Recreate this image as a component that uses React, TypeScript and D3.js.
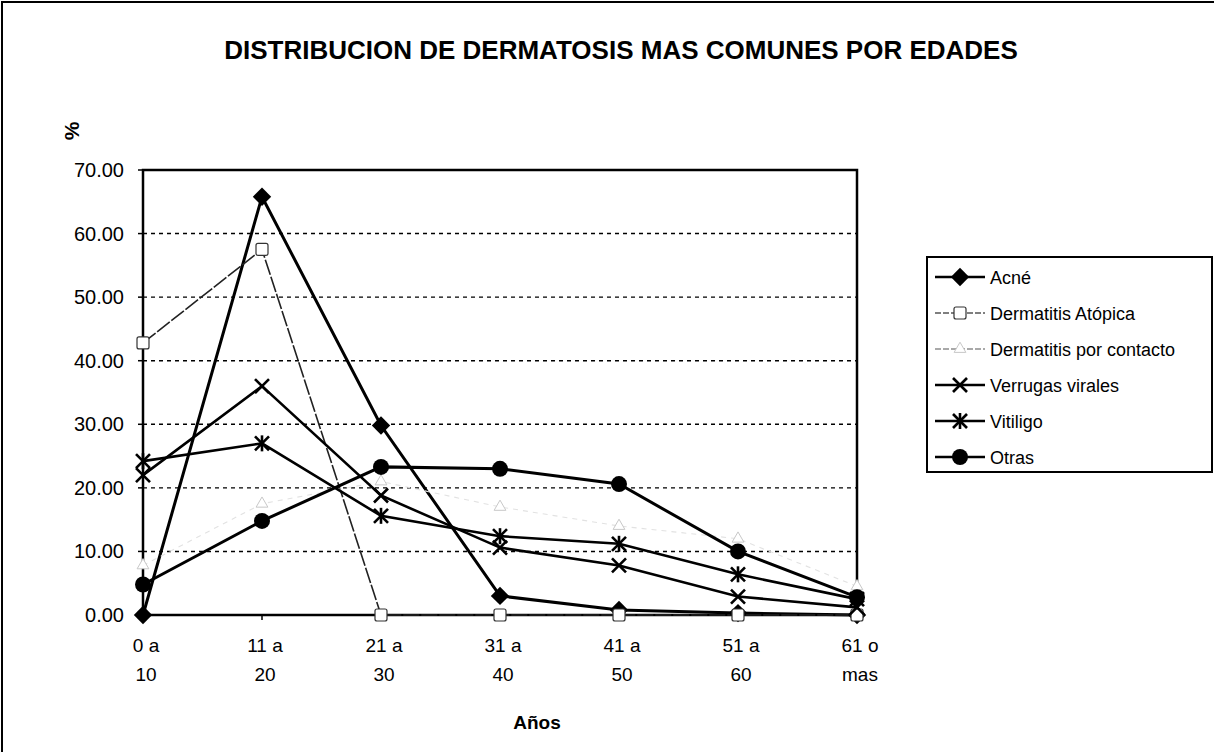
import * as d3 from 'd3';

const ageTop = ['0 a', '11 a', '21 a', '31 a', '41 a', '51 a', '61 o'];
const ageBottom = ['10', '20', '30', '40', '50', '60', 'mas'];

const acne = [0.0, 65.8, 29.8, 3.0, 0.8, 0.3, 0.0];
const atopica = [42.8, 57.5, 0.0, 0.0, 0.0, 0.0, 0.0];
const contacto = [7.8, 17.5, 21.0, 17.0, 14.0, 12.0, 4.5];
const verrugas = [22.0, 36.0, 18.8, 10.6, 7.8, 2.9, 1.2];
const vitiligo = [24.2, 27.0, 15.6, 12.4, 11.2, 6.4, 2.5];
const otras = [4.8, 14.8, 23.3, 23.0, 20.6, 10.0, 2.8];

const yTicks = [0, 10, 20, 30, 40, 50, 60, 70];

const FONT = '"Liberation Sans", Arial, sans-serif';

const seriesList = [
  { name: 'Acné', values: acne, marker: 'diamond', stroke: '#000', width: 3, dash: null as string | null },
  { name: 'Dermatitis Atópica', values: atopica, marker: 'square', stroke: '#222', width: 1.6, dash: '16,2' },
  { name: 'Dermatitis por contacto', values: contacto, marker: 'triangle', stroke: '#e2e2e2', width: 1.1, dash: '5,5' },
  { name: 'Verrugas virales', values: verrugas, marker: 'x', stroke: '#000', width: 2.6, dash: null },
  { name: 'Vitiligo', values: vitiligo, marker: 'star', stroke: '#000', width: 2.6, dash: null },
  { name: 'Otras', values: otras, marker: 'circle', stroke: '#000', width: 3, dash: null },
];

function Marker({ type, x, y }: { type: string; x: number; y: number }) {
  const sz = 7;
  if (type === 'diamond') {
    return <rect x={-6.5} y={-6.5} width={13} height={13} transform={`translate(${x},${y}) rotate(45)`} fill="#000" />;
  }
  if (type === 'square') {
    return <rect x={x - 6} y={y - 6} width={12} height={12} rx={2} fill="#fff" stroke="#333" strokeWidth={1.2} />;
  }
  if (type === 'triangle') {
    return <path d={d3.symbol(d3.symbolTriangle, 60)()!} transform={`translate(${x},${y})`} fill="#fff" stroke="#c8c8c8" strokeWidth={1} />;
  }
  if (type === 'circle') {
    return <circle cx={x} cy={y} r={8} fill="#000" />;
  }
  if (type === 'x') {
    return (
      <g stroke="#000" strokeWidth={2.6}>
        <line x1={x - sz} y1={y - sz} x2={x + sz} y2={y + sz} />
        <line x1={x - sz} y1={y + sz} x2={x + sz} y2={y - sz} />
      </g>
    );
  }
  // asterisco
  return (
    <g stroke="#000" strokeWidth={2.6}>
      <line x1={x - sz} y1={y - sz} x2={x + sz} y2={y + sz} />
      <line x1={x - sz} y1={y + sz} x2={x + sz} y2={y - sz} />
      <line x1={x} y1={y - sz - 1} x2={x} y2={y + sz + 1} />
    </g>
  );
}

export default function App() {
  const width = 1214;
  const height = 752;
  const plot = { left: 143, right: 857, top: 170, bottom: 615 };

  const x = d3.scalePoint<number>()
    .domain(d3.range(ageTop.length))
    .range([plot.left, plot.right])
    .padding(0);

  const y = d3.scaleLinear().domain([0, 70]).range([plot.bottom, plot.top]);

  const line = d3.line<number>()
    .x((_, i) => x(i)!)
    .y(d => y(d));

  const legend = { x: 927, y: 257, w: 285, h: 215, rowH: 36 };

  return (
    <svg
      width={width}
      height={height}
      style={{ position: 'absolute', left: 0, top: 0, background: '#fff' }}
      fontFamily={FONT}
    >
      {/* marco exterior */}
      <rect x={2} y={2} width={width + 20} height={height + 20} fill="#fff" stroke="#000" strokeWidth={2} />

      <text x={621} y={59} textAnchor="middle" fontSize={26} fontWeight="bold">
        DISTRIBUCION DE DERMATOSIS MAS COMUNES POR EDADES
      </text>

      {/* rejilla */}
      {yTicks.filter(t => t > 0 && t < 70).map(t => (
        <line key={t} x1={plot.left} x2={plot.right} y1={y(t)} y2={y(t)}
          stroke="#000" strokeWidth={1.4} strokeDasharray="4,4" />
      ))}

      <rect x={plot.left} y={plot.top} width={plot.right - plot.left} height={plot.bottom - plot.top}
        fill="none" stroke="#000" strokeWidth={2.5} />

      {yTicks.map(t => (
        <g key={t}>
          <line x1={plot.left - 5} x2={plot.left} y1={y(t)} y2={y(t)} stroke="#000" strokeWidth={1.5} />
          <text x={124} y={y(t) + 7} textAnchor="end" fontSize={20}>{d3.format('.2f')(t)}</text>
        </g>
      ))}

      <text transform="translate(79,131) rotate(-90)" textAnchor="middle" fontSize={21} fontWeight="bold">%</text>

      {ageTop.map((lab, i) => (
        <g key={lab}>
          <line x1={x(i)!} x2={x(i)!} y1={plot.bottom} y2={plot.bottom + 5} stroke="#000" strokeWidth={1.5} />
          <text x={x(i)! + 3} y={652} textAnchor="middle" fontSize={19}>{lab}</text>
          <text x={x(i)! + 3} y={681} textAnchor="middle" fontSize={19}>{ageBottom[i]}</text>
        </g>
      ))}

      <text x={537} y={729} textAnchor="middle" fontSize={19} fontWeight="bold">Años</text>

      {/* series */}
      {seriesList.map(s => (
        <path key={s.name} d={line(s.values)!} fill="none" stroke={s.stroke}
          strokeWidth={s.width} strokeDasharray={s.dash ?? undefined} />
      ))}
      {seriesList.map(s => (
        <g key={s.name + '-m'}>
          {s.values.map((v, i) => (
            <Marker key={i} type={s.marker} x={x(i)!} y={y(v)} />
          ))}
        </g>
      ))}

      {/* leyenda */}
      <rect x={legend.x} y={legend.y} width={legend.w} height={legend.h} fill="#fff" stroke="#000" strokeWidth={2} />
      {seriesList.map((s, i) => {
        const cy = legend.y + 20 + i * legend.rowH;
        return (
          <g key={s.name + '-l'}>
            <line x1={935} x2={985} y1={cy} y2={cy} stroke={s.marker === 'triangle' ? '#555' : '#000'}
              strokeWidth={s.marker === 'square' || s.marker === 'triangle' ? 1.2 : 2.5}
              strokeDasharray={s.dash ? '6,2' : undefined} />
            <Marker type={s.marker} x={960} y={cy} />
            <text x={990} y={cy + 7} fontSize={18}>{s.name}</text>
          </g>
        );
      })}
    </svg>
  );
}
